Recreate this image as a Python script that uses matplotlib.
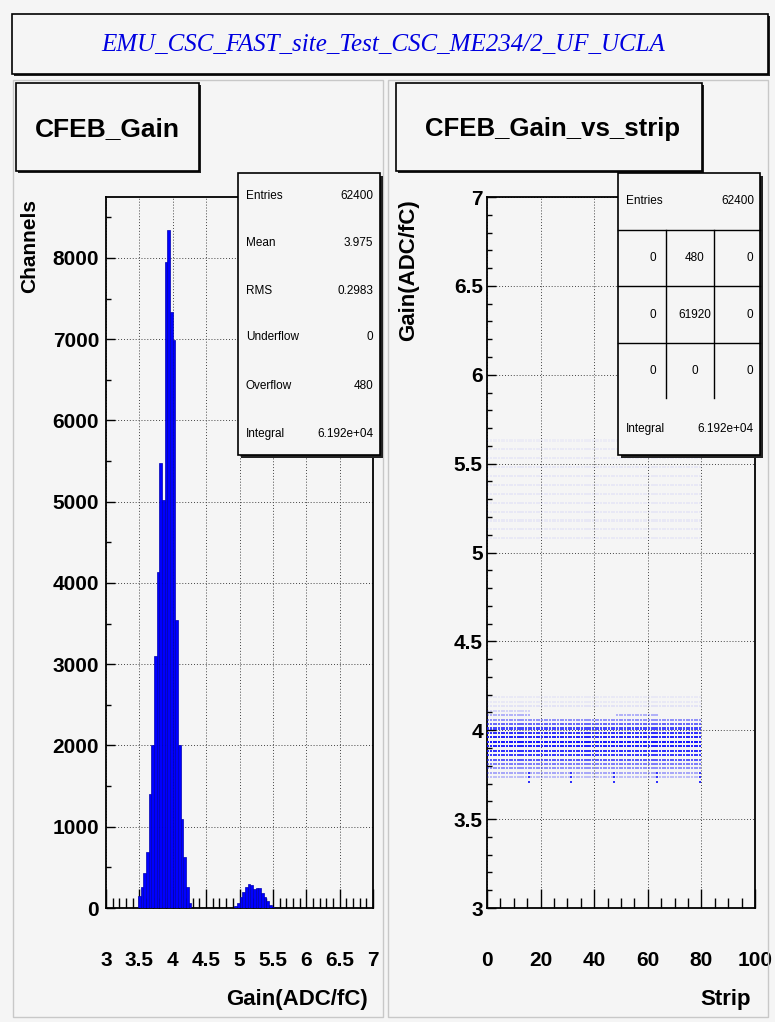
import numpy as np
import matplotlib
matplotlib.use("Agg")
import matplotlib.pyplot as plt
from matplotlib.patches import Rectangle
from matplotlib.ticker import MultipleLocator

W, H = 775, 1022
BG = '#f5f5f5'
BLUE = '#0000ff'

## CFEB_Gain histogram, bin width 0.04 (left edges + contents)
main_lo = [3.48, 3.52, 3.56, 3.60, 3.64, 3.68, 3.72, 3.76, 3.80, 3.84,
           3.88, 3.92, 3.96, 4.00, 4.04, 4.08, 4.12, 4.16, 4.20, 4.24]
main_counts = [150, 260, 430, 690, 1400, 2000, 3100, 4140, 5475, 5020,
               7955, 8345, 7340, 6990, 3550, 2000, 1100, 630, 260, 60]
bump_lo = [4.92, 4.96, 5.00, 5.04, 5.08, 5.12, 5.16, 5.20,
           5.24, 5.28, 5.32, 5.36, 5.40, 5.44, 5.48, 5.52]
bump_counts = [20, 60, 130, 200, 260, 290, 280, 230,
               250, 240, 190, 130, 80, 40, 15, 5]
bin_width = 0.04

## stats boxes
hist_stats = [('Entries', '62400'), ('Mean', '3.975'), ('RMS', '0.2983'),
              ('Underflow', '0'), ('Overflow', '480'), ('Integral', '6.192e+04')]
scat_entries = '62400'
scat_cells = [['0', '480', '0'], ['0', '61920', '0'], ['0', '0', '0']]
scat_integral = '6.192e+04'

## CFEB_Gain_vs_strip: 80 strips, 16 per CFEB
n_strips = 80
strips_per_cfeb = 16
band_gain = [3.735, 3.76, 3.785, 3.81, 3.835, 3.86, 3.885, 3.91, 3.935,
             3.96, 3.985, 4.01, 4.035, 4.06, 4.085, 4.11]
band_density = [0.25, 0.35, 0.45, 0.55, 0.7, 0.85, 0.9, 0.95, 1.0,
                0.95, 0.9, 0.8, 0.65, 0.45, 0.3, 0.15]
cfeb_top = [4.11, 4.06, 4.06, 4.085, 4.06]
edge_gain = [3.71, 3.735, 3.76]       # last strip of each CFEB sits lower
edge_density = [0.9, 0.85, 0.8]
faint_gain = [4.135, 4.16, 4.185, 5.08, 5.13, 5.18, 5.23, 5.28, 5.33,
              5.38, 5.43, 5.48, 5.53, 5.58, 5.63]
faint_density = [0.08, 0.06, 0.05, 0.05, 0.06, 0.06, 0.06, 0.06, 0.06,
                 0.06, 0.06, 0.06, 0.05, 0.05, 0.04]


def fig_rect(x0, y0, x1, y1):
    return [x0 / W, 1 - y1 / H, (x1 - x0) / W, (y1 - y0) / H]


fig = plt.figure(figsize=(W / 100, H / 100), dpi=100, facecolor=BG)

def style_axes(ax):
    ax.set_facecolor(BG)
    for sp in ax.spines.values():
        sp.set_linewidth(1.3)
        sp.set_color('black')
    ax.grid(True, which='major', color='#444444', linestyle=(0, (1, 2)), linewidth=0.7)
    ax.set_axisbelow(True)
    ax.tick_params(which='both', direction='in', top=False, right=False, color='black')
    ax.tick_params(axis='x', which='major', length=14, width=1.0, pad=31)
    ax.tick_params(axis='x', which='minor', length=7, width=1.0)
    ax.tick_params(axis='y', which='major', length=6.5, width=1.0)
    ax.tick_params(axis='y', which='minor', length=3.5, width=1.0)
    for lab in ax.get_xticklabels() + ax.get_yticklabels():
        lab.set_fontfamily('Liberation Sans')
        lab.set_fontweight('bold')
        lab.set_fontsize(15)


# left pad: gain histogram
axh = fig.add_axes(fig_rect(106, 197, 373, 908))
axh.bar(main_lo, main_counts, width=bin_width, align='edge', color=BLUE,
        edgecolor='#0000b0', linewidth=0.5, zorder=3)
axh.bar(bump_lo, bump_counts, width=bin_width, align='edge', color=BLUE,
        edgecolor='#0000b0', linewidth=0.5, zorder=3)
axh.set_xlim(3, 7)
axh.set_ylim(0, 8750)
axh.xaxis.set_major_locator(MultipleLocator(0.5))
axh.xaxis.set_minor_locator(MultipleLocator(0.1))
axh.yaxis.set_major_locator(MultipleLocator(1000))
axh.yaxis.set_minor_locator(MultipleLocator(500))
axh.set_xticks(np.arange(3, 7.01, 0.5))
axh.set_xticklabels(['3', '3.5', '4', '4.5', '5', '5.5', '6', '6.5', '7'])
style_axes(axh)
axh.tick_params(axis='y', pad=5)

# right pad: gain vs strip scatter
xs, ys, al = [], [], []
for s in range(n_strips):
    c = s // strips_per_cfeb
    for g, d in zip(band_gain, band_density):
        if g <= cfeb_top[c] + 1e-6:
            xs.append(s + 0.5); ys.append(g); al.append(d)
    if s % strips_per_cfeb == strips_per_cfeb - 1:
        for g, d in zip(edge_gain, edge_density):
            xs.append(s + 0.5); ys.append(g); al.append(d)
    for g, d in zip(faint_gain, faint_density):
        xs.append(s + 0.5); ys.append(g); al.append(d)
cols = np.zeros((len(xs), 4))
cols[:, 0] = 0.1
cols[:, 1] = 0.1
cols[:, 2] = 1.0
cols[:, 3] = al

axs = fig.add_axes(fig_rect(487, 197, 755, 908))
axs.scatter(xs, ys, s=2.2, c=cols, marker='s', linewidths=0, zorder=3)
axs.set_xlim(0, 100)
axs.set_ylim(3, 7)
axs.xaxis.set_major_locator(MultipleLocator(20))
axs.xaxis.set_minor_locator(MultipleLocator(5))
axs.yaxis.set_major_locator(MultipleLocator(0.5))
axs.yaxis.set_minor_locator(MultipleLocator(0.1))
axs.set_yticks(np.arange(3, 7.01, 0.5))
axs.set_yticklabels(['3', '3.5', '4', '4.5', '5', '5.5', '6', '6.5', '7'])
style_axes(axs)
axs.tick_params(axis='y', pad=3)

# overlay in pixel coordinates for boxes and labels
ov = fig.add_axes([0, 0, 1, 1])
ov.set_xlim(0, W)
ov.set_ylim(H, 0)
ov.axis('off')
ov.patch.set_alpha(0)

# pad borders
for x0, x1 in [(13, 383), (388, 768)]:
    ov.add_patch(Rectangle((x0, 80), x1 - x0, 1017 - 80, fill=False,
                           edgecolor='#c8c8c8', linewidth=1.0, zorder=1))


def shadow_box(x0, y0, x1, y1, lw=1.2, sh=3):
    ov.add_patch(Rectangle((x0 + sh, y0 + sh), x1 - x0, y1 - y0,
                           facecolor='#222222', edgecolor='none', zorder=4))
    ov.add_patch(Rectangle((x0, y0), x1 - x0, y1 - y0, facecolor=BG,
                           edgecolor='black', linewidth=lw, zorder=5))


sans = 'Liberation Sans'

# canvas title
shadow_box(12, 14, 768, 74, sh=2)
ov.text(383, 45, 'EMU_CSC_FAST_site_Test_CSC_ME234/2_UF_UCLA', color='#0000e0',
        fontfamily='Liberation Serif', fontstyle='italic', fontsize=18,
        ha='center', va='center', zorder=6)

# pad titles
shadow_box(16, 83, 199, 171, sh=2)
ov.text(107, 129, 'CFEB_Gain', fontfamily=sans, fontweight='bold', fontsize=19,
        ha='center', va='center', zorder=6)
shadow_box(396, 83, 702, 171, sh=2)
ov.text(552, 129, 'CFEB_Gain_vs_strip', fontfamily=sans, fontweight='bold',
        fontsize=18.5, ha='center', va='center', zorder=6)

# axis titles
ov.text(30, 199, 'Channels', fontfamily=sans, fontweight='bold', fontsize=15,
        rotation=90, ha='center', va='top', zorder=6)
ov.text(368, 1000, 'Gain(ADC/fC)', fontfamily=sans, fontweight='bold', fontsize=16,
        ha='right', va='center', zorder=6)
ov.text(409, 199, 'Gain(ADC/fC)', fontfamily=sans, fontweight='bold', fontsize=16,
        rotation=90, ha='center', va='top', zorder=6)
ov.text(751, 1000, 'Strip', fontfamily=sans, fontweight='bold', fontsize=16,
        ha='right', va='center', zorder=6)

# histogram stats box
shadow_box(238, 173, 380, 455, sh=3)
row_y = [196, 243, 291, 337, 386, 434]
for (name, val), y in zip(hist_stats, row_y):
    ov.text(246, y, name, fontfamily=sans, fontsize=8.5, ha='left', va='center', zorder=6)
    ov.text(373, y, val, fontfamily=sans, fontsize=8.5, ha='right', va='center', zorder=6)

# scatter stats box
shadow_box(618, 173, 760, 455, sh=3)
ov.text(626, 201, 'Entries', fontfamily=sans, fontsize=8.5, ha='left', va='center', zorder=6)
ov.text(754, 201, scat_entries, fontfamily=sans, fontsize=8.5, ha='right', va='center', zorder=6)
for y in [230, 286, 343]:
    ov.plot([618, 760], [y, y], color='black', linewidth=1.0, zorder=6)
for x in [666, 714]:
    ov.plot([x, x], [230, 398], color='black', linewidth=1.0, zorder=6)
cell_x = [653, 695, 750]
cell_y = [258, 315, 371]
for row, y in zip(scat_cells, cell_y):
    for val, x in zip(row, cell_x):
        ov.text(x, y, val, fontfamily=sans, fontsize=8.5, ha='center', va='center', zorder=6)
ov.text(626, 429, 'Integral', fontfamily=sans, fontsize=8.5, ha='left', va='center', zorder=6)
ov.text(753, 429, scat_integral, fontfamily=sans, fontsize=8.5, ha='right', va='center', zorder=6)

fig.savefig('out.png', dpi=100, facecolor=BG)
